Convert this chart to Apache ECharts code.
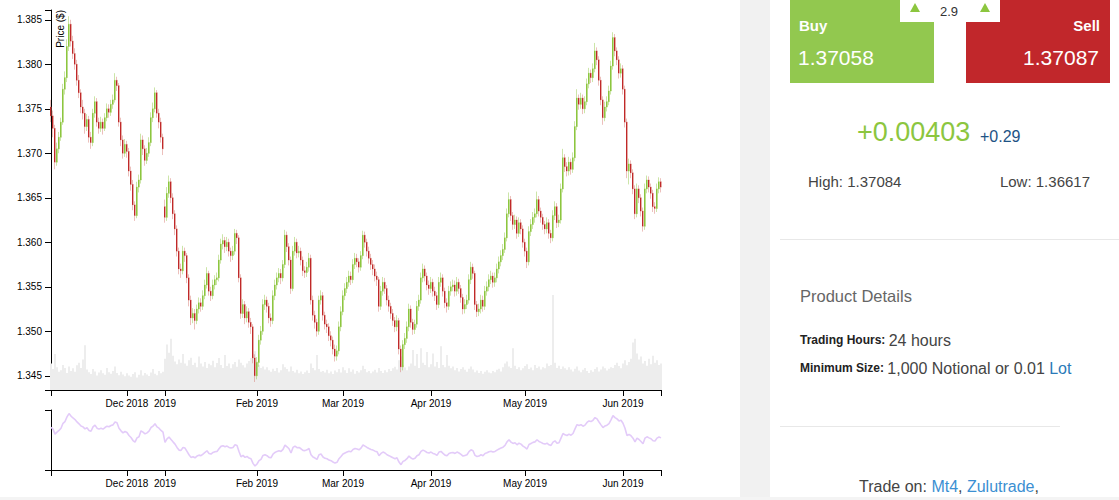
<!DOCTYPE html>
<html><head><meta charset="utf-8">
<script src="https://cdn.jsdelivr.net/npm/echarts@6/dist/echarts.min.js"></script>
<style>html,body{margin:0;padding:0;background:#fff;overflow:hidden}#c{width:1119px;height:500px}</style>
</head><body><div id="c"></div>
<script>
// ---- data: one row per candle = [open, close, low, high] ----
const ohlc = [
[1.3752,1.3742,1.3735,1.3760],[1.3742,1.3728,1.3718,1.3748],[1.3728,1.3690,1.3682,1.3732],[1.3690,1.3705,1.3686,1.3712],[1.3705,1.3718,1.3700,1.3724],
[1.3718,1.3735,1.3714,1.3740],[1.3735,1.3772,1.3732,1.3778],[1.3772,1.3785,1.3766,1.3792],[1.3785,1.3820,1.3780,1.3828],[1.3820,1.3845,1.3815,1.3854],
[1.3845,1.3826,1.3820,1.3850],[1.3826,1.3812,1.3806,1.3832],[1.3812,1.3800,1.3794,1.3818],[1.3800,1.3782,1.3776,1.3805],[1.3782,1.3768,1.3762,1.3788],
[1.3768,1.3752,1.3745,1.3772],[1.3752,1.3745,1.3738,1.3760],[1.3745,1.3730,1.3722,1.3750],[1.3730,1.3738,1.3725,1.3744],[1.3738,1.3718,1.3712,1.3742],
[1.3718,1.3712,1.3705,1.3724],[1.3712,1.3745,1.3708,1.3750],[1.3745,1.3758,1.3740,1.3764],[1.3758,1.3735,1.3730,1.3762],[1.3735,1.3728,1.3722,1.3740],
[1.3728,1.3735,1.3724,1.3741],[1.3735,1.3728,1.3721,1.3739],[1.3728,1.3740,1.3725,1.3745],[1.3740,1.3750,1.3736,1.3756],[1.3750,1.3746,1.3740,1.3755],
[1.3746,1.3755,1.3742,1.3760],[1.3755,1.3760,1.3750,1.3766],[1.3760,1.3782,1.3757,1.3790],[1.3782,1.3776,1.3770,1.3786],[1.3776,1.3735,1.3730,1.3779],
[1.3735,1.3715,1.3708,1.3740],[1.3715,1.3700,1.3694,1.3720],[1.3700,1.3710,1.3696,1.3716],[1.3710,1.3702,1.3695,1.3714],[1.3702,1.3680,1.3674,1.3706],
[1.3680,1.3665,1.3658,1.3685],[1.3665,1.3642,1.3636,1.3670],[1.3642,1.3630,1.3624,1.3646],[1.3630,1.3662,1.3627,1.3668],[1.3662,1.3670,1.3656,1.3676],
[1.3670,1.3715,1.3666,1.3722],[1.3715,1.3705,1.3698,1.3720],[1.3705,1.3692,1.3686,1.3709],[1.3692,1.3700,1.3688,1.3706],[1.3700,1.3712,1.3696,1.3718],
[1.3712,1.3740,1.3708,1.3746],[1.3740,1.3750,1.3735,1.3757],[1.3750,1.3768,1.3746,1.3774],[1.3768,1.3745,1.3740,1.3771],[1.3745,1.3735,1.3728,1.3750],
[1.3735,1.3718,1.3712,1.3740],[1.3718,1.3705,1.3698,1.3722],[1.3640,1.3628,1.3622,1.3648],[1.3628,1.3655,1.3624,1.3662],[1.3655,1.3668,1.3650,1.3675],
[1.3668,1.3650,1.3644,1.3672],[1.3650,1.3632,1.3626,1.3655],[1.3632,1.3615,1.3608,1.3636],[1.3615,1.3590,1.3584,1.3619],[1.3590,1.3570,1.3564,1.3594],
[1.3570,1.3568,1.3560,1.3576],[1.3568,1.3590,1.3564,1.3596],[1.3590,1.3585,1.3578,1.3594],[1.3585,1.3560,1.3554,1.3588],[1.3560,1.3535,1.3528,1.3564],
[1.3535,1.3515,1.3507,1.3540],[1.3515,1.3520,1.3509,1.3526],[1.3520,1.3512,1.3502,1.3525],[1.3512,1.3525,1.3508,1.3530],[1.3525,1.3532,1.3520,1.3538],
[1.3532,1.3528,1.3522,1.3537],[1.3528,1.3540,1.3524,1.3546],[1.3540,1.3552,1.3536,1.3558],[1.3552,1.3565,1.3548,1.3572],[1.3565,1.3545,1.3540,1.3568],
[1.3545,1.3540,1.3534,1.3550],[1.3540,1.3552,1.3536,1.3558],[1.3552,1.3558,1.3547,1.3563],[1.3558,1.3560,1.3552,1.3566],[1.3560,1.3580,1.3556,1.3586],
[1.3580,1.3598,1.3576,1.3604],[1.3598,1.3602,1.3592,1.3609],[1.3602,1.3595,1.3588,1.3606],[1.3595,1.3600,1.3590,1.3606],[1.3600,1.3590,1.3584,1.3604],
[1.3590,1.3585,1.3578,1.3594],[1.3585,1.3590,1.3580,1.3596],[1.3590,1.3610,1.3586,1.3615],[1.3610,1.3605,1.3598,1.3614],[1.3605,1.3560,1.3555,1.3608],
[1.3560,1.3520,1.3514,1.3564],[1.3520,1.3530,1.3515,1.3536],[1.3530,1.3515,1.3508,1.3534],[1.3515,1.3522,1.3510,1.3528],[1.3522,1.3510,1.3504,1.3526],
[1.3510,1.3505,1.3497,1.3515],[1.3505,1.3470,1.3464,1.3508],[1.3470,1.3450,1.3443,1.3474],[1.3450,1.3465,1.3446,1.3471],[1.3465,1.3490,1.3460,1.3496],
[1.3490,1.3500,1.3485,1.3506],[1.3500,1.3530,1.3496,1.3536],[1.3530,1.3535,1.3524,1.3541],[1.3535,1.3528,1.3521,1.3539],[1.3528,1.3515,1.3509,1.3532],
[1.3515,1.3512,1.3505,1.3520],[1.3512,1.3540,1.3508,1.3546],[1.3540,1.3552,1.3535,1.3558],[1.3552,1.3560,1.3547,1.3566],[1.3560,1.3565,1.3555,1.3571],
[1.3565,1.3560,1.3553,1.3570],[1.3560,1.3575,1.3556,1.3580],[1.3575,1.3608,1.3571,1.3614],[1.3608,1.3595,1.3589,1.3612],[1.3595,1.3580,1.3574,1.3599],
[1.3580,1.3548,1.3542,1.3584],[1.3548,1.3590,1.3545,1.3596],[1.3590,1.3600,1.3585,1.3606],[1.3600,1.3588,1.3582,1.3604],[1.3588,1.3590,1.3583,1.3596],
[1.3590,1.3580,1.3574,1.3594],[1.3580,1.3568,1.3562,1.3584],[1.3568,1.3566,1.3560,1.3573],[1.3566,1.3572,1.3561,1.3578],[1.3572,1.3582,1.3567,1.3588],
[1.3582,1.3535,1.3530,1.3586],[1.3535,1.3518,1.3512,1.3540],[1.3518,1.3510,1.3503,1.3523],[1.3510,1.3500,1.3494,1.3514],[1.3500,1.3535,1.3496,1.3540],
[1.3535,1.3540,1.3530,1.3546],[1.3540,1.3518,1.3512,1.3544],[1.3518,1.3508,1.3502,1.3522],[1.3508,1.3505,1.3498,1.3513],[1.3505,1.3495,1.3489,1.3509],
[1.3495,1.3490,1.3483,1.3500],[1.3490,1.3480,1.3474,1.3494],[1.3480,1.3472,1.3466,1.3485],[1.3472,1.3478,1.3467,1.3484],[1.3478,1.3505,1.3474,1.3511],
[1.3505,1.3522,1.3500,1.3528],[1.3522,1.3540,1.3518,1.3546],[1.3540,1.3548,1.3535,1.3554],[1.3548,1.3555,1.3543,1.3561],[1.3555,1.3562,1.3550,1.3568],
[1.3562,1.3558,1.3552,1.3567],[1.3558,1.3575,1.3554,1.3581],[1.3575,1.3582,1.3570,1.3588],[1.3582,1.3578,1.3572,1.3587],[1.3578,1.3572,1.3566,1.3582],
[1.3572,1.3585,1.3568,1.3590],[1.3585,1.3608,1.3581,1.3613],[1.3608,1.3600,1.3594,1.3612],[1.3600,1.3590,1.3584,1.3604],[1.3590,1.3582,1.3576,1.3595],
[1.3582,1.3575,1.3569,1.3587],[1.3575,1.3570,1.3563,1.3580],[1.3570,1.3562,1.3556,1.3575],[1.3562,1.3558,1.3551,1.3567],[1.3558,1.3528,1.3522,1.3561],
[1.3528,1.3545,1.3524,1.3551],[1.3545,1.3555,1.3540,1.3561],[1.3555,1.3548,1.3542,1.3560],[1.3548,1.3535,1.3529,1.3552],[1.3535,1.3528,1.3522,1.3540],
[1.3528,1.3520,1.3514,1.3532],[1.3520,1.3512,1.3506,1.3525],[1.3512,1.3505,1.3499,1.3516],[1.3505,1.3512,1.3500,1.3518],[1.3512,1.3480,1.3474,1.3515],
[1.3480,1.3460,1.3454,1.3484],[1.3460,1.3485,1.3456,1.3490],[1.3485,1.3492,1.3480,1.3498],[1.3492,1.3505,1.3487,1.3511],[1.3505,1.3525,1.3500,1.3531],
[1.3525,1.3510,1.3504,1.3529],[1.3510,1.3502,1.3496,1.3514],[1.3502,1.3508,1.3497,1.3513],[1.3508,1.3528,1.3504,1.3534],[1.3528,1.3535,1.3523,1.3541],
[1.3535,1.3560,1.3531,1.3566],[1.3560,1.3570,1.3555,1.3576],[1.3570,1.3562,1.3556,1.3574],[1.3562,1.3552,1.3546,1.3566],[1.3552,1.3548,1.3541,1.3557],
[1.3548,1.3555,1.3543,1.3561],[1.3555,1.3545,1.3539,1.3559],[1.3545,1.3540,1.3534,1.3550],[1.3540,1.3530,1.3524,1.3544],[1.3530,1.3555,1.3526,1.3561],
[1.3555,1.3560,1.3550,1.3566],[1.3560,1.3545,1.3539,1.3564],[1.3545,1.3532,1.3526,1.3549],[1.3532,1.3528,1.3521,1.3537],[1.3528,1.3545,1.3524,1.3551],
[1.3545,1.3550,1.3540,1.3556],[1.3550,1.3552,1.3545,1.3558],[1.3552,1.3545,1.3539,1.3557],[1.3545,1.3555,1.3540,1.3561],[1.3555,1.3548,1.3542,1.3559],
[1.3548,1.3538,1.3532,1.3552],[1.3538,1.3525,1.3519,1.3542],[1.3525,1.3530,1.3520,1.3536],[1.3530,1.3535,1.3525,1.3541],[1.3535,1.3558,1.3531,1.3564],
[1.3558,1.3572,1.3553,1.3578],[1.3572,1.3565,1.3559,1.3576],[1.3565,1.3530,1.3524,1.3568],[1.3530,1.3522,1.3516,1.3534],[1.3522,1.3525,1.3517,1.3531],
[1.3525,1.3535,1.3520,1.3541],[1.3535,1.3528,1.3522,1.3540],[1.3528,1.3545,1.3524,1.3551],[1.3545,1.3550,1.3540,1.3556],[1.3550,1.3558,1.3545,1.3564],
[1.3558,1.3562,1.3553,1.3568],[1.3562,1.3555,1.3549,1.3566],[1.3555,1.3560,1.3550,1.3566],[1.3560,1.3570,1.3555,1.3576],[1.3570,1.3578,1.3565,1.3584],
[1.3578,1.3585,1.3573,1.3591],[1.3585,1.3592,1.3580,1.3598],[1.3592,1.3605,1.3588,1.3611],[1.3605,1.3632,1.3601,1.3638],[1.3632,1.3648,1.3628,1.3656],
[1.3648,1.3630,1.3624,1.3652],[1.3630,1.3620,1.3614,1.3634],[1.3620,1.3625,1.3615,1.3631],[1.3625,1.3610,1.3604,1.3629],[1.3610,1.3622,1.3606,1.3628],
[1.3622,1.3615,1.3609,1.3626],[1.3615,1.3600,1.3594,1.3619],[1.3600,1.3590,1.3584,1.3604],[1.3590,1.3578,1.3571,1.3594],[1.3578,1.3612,1.3574,1.3618],
[1.3612,1.3620,1.3607,1.3626],[1.3620,1.3628,1.3615,1.3634],[1.3628,1.3632,1.3622,1.3638],[1.3632,1.3648,1.3628,1.3657],[1.3648,1.3635,1.3629,1.3652],
[1.3635,1.3628,1.3622,1.3639],[1.3628,1.3620,1.3614,1.3632],[1.3620,1.3615,1.3609,1.3624],[1.3615,1.3622,1.3610,1.3628],[1.3622,1.3610,1.3604,1.3626],
[1.3610,1.3605,1.3599,1.3614],[1.3605,1.3630,1.3601,1.3636],[1.3630,1.3640,1.3625,1.3646],[1.3640,1.3622,1.3616,1.3644],[1.3622,1.3625,1.3617,1.3631],
[1.3625,1.3660,1.3621,1.3666],[1.3660,1.3695,1.3656,1.3705],[1.3695,1.3685,1.3679,1.3699],[1.3685,1.3680,1.3674,1.3690],[1.3680,1.3690,1.3675,1.3696],
[1.3690,1.3682,1.3676,1.3694],[1.3682,1.3695,1.3678,1.3701],[1.3695,1.3730,1.3691,1.3736],[1.3730,1.3762,1.3726,1.3772],[1.3762,1.3755,1.3749,1.3766],
[1.3755,1.3762,1.3750,1.3768],[1.3762,1.3750,1.3744,1.3766],[1.3750,1.3758,1.3745,1.3764],[1.3758,1.3778,1.3754,1.3784],[1.3778,1.3790,1.3773,1.3796],
[1.3790,1.3785,1.3779,1.3794],[1.3785,1.3795,1.3780,1.3801],[1.3795,1.3815,1.3791,1.3824],[1.3815,1.3805,1.3799,1.3819],[1.3805,1.3782,1.3776,1.3809],
[1.3782,1.3760,1.3754,1.3786],[1.3760,1.3740,1.3732,1.3764],[1.3740,1.3752,1.3736,1.3758],[1.3752,1.3758,1.3747,1.3764],[1.3758,1.3770,1.3754,1.3776],
[1.3770,1.3798,1.3766,1.3804],[1.3798,1.3830,1.3794,1.3836],[1.3830,1.3815,1.3809,1.3834],[1.3815,1.3805,1.3799,1.3819],[1.3805,1.3790,1.3784,1.3809],
[1.3790,1.3795,1.3785,1.3801],[1.3795,1.3772,1.3766,1.3799],[1.3772,1.3735,1.3729,1.3776],[1.3735,1.3680,1.3672,1.3739],[1.3680,1.3688,1.3665,1.3694],
[1.3688,1.3678,1.3672,1.3692],[1.3678,1.3660,1.3654,1.3682],[1.3660,1.3632,1.3626,1.3664],[1.3632,1.3660,1.3628,1.3666],[1.3660,1.3650,1.3644,1.3664],
[1.3650,1.3635,1.3629,1.3654],[1.3635,1.3618,1.3612,1.3639],[1.3618,1.3660,1.3614,1.3666],[1.3660,1.3670,1.3655,1.3675],[1.3670,1.3662,1.3656,1.3674],
[1.3662,1.3655,1.3649,1.3666],[1.3655,1.3640,1.3634,1.3659],[1.3640,1.3638,1.3632,1.3645],[1.3638,1.3660,1.3634,1.3666],[1.3660,1.3668,1.3655,1.3673],
[1.3668,1.3662,1.3656,1.3672]
];
const volumes = [
70,55,95,60,48,52,66,58,45,62, 50,57,48,65,72,58,80,118,54,47, 42,55,49,38,46,52,44,40,58,47,
43,50,62,45,39,48,41,36,44,38, 35,42,47,33,40,52,38,45,41,37, 46,55,43,39,50,44,48,82,120,98,
135,90,75,68,80,72,95,70,64,78, 85,66,72,60,88,70,62,74,58,69, 65,77,60,71,84,66,58,92,63,70,
57,68,74,61,80,72,65,59,70,76, 84,96,102,75,66,58,62,54,60,52, 48,56,50,58,46,52,68,60,55,49,
62,50,46,53,44,49,42,47,51,45, 70,58,52,92,55,48,50,46,53,44, 49,42,51,47,55,46,60,52,45,57,
48,54,43,50,46,52,64,55,47,50, 44,49,53,46,58,50,45,52,47,55, 50,57,61,54,78,88,66,59,52,62,
70,105,64,95,58,110,72,66,100,60, 68,96,62,74,58,115,66,60,92,64, 57,62,52,58,49,55,60,53,48,56,
62,54,47,51,45,50,43,48,52,46, 44,50,47,53,56,49,60,70,75,62, 58,110,64,55,60,52,57,63,68,55,
59,52,66,58,62,54,60,57,70,63, 66,250,72,58,64,55,62,57,53,60, 54,49,56,62,51,47,53,58,50,45,
52,48,55,60,49,54,62,57,51,56, 60,58,66,72,63,57,70,78,65,74, 82,125,135,96,80,88,70,76,64,82,
68,90,72,78,66,70
];
// month-start candle index and its tick label
const tickIndex  = [38, 57, 103, 146, 190, 237, 286];
const tickLabels = ['Dec 2018', '2019', 'Feb 2019', 'Mar 2019', 'Apr 2019', 'May 2019', 'Jun 2019'];
const priceTicks = [1.345, 1.350, 1.355, 1.360, 1.365, 1.370, 1.375, 1.380, 1.385];
const priceMin = 1.3434, priceMax = 1.3861;
const navMin = 1.3420, navMax = 1.3872;
const volumeMax = 1000;
// quote panel values
const quote = { buy: '1.37058', sell: '1.37087', spread: '2.9', change: '+0.00403', changePct: '+0.29', high: '1.37084', low: '1.36617' };

// ---- derived tables for the library ----
const categories = ohlc.map((_, i) => String(i));
const closes = ohlc.map(r => r[1]);
const bodies = ohlc.map(r => [r[0], r[1], Math.min(r[0], r[1]), Math.max(r[0], r[1])]);
const last = ohlc.length - 1;

const FONT = 'Liberation Sans, Arial, sans-serif';
const tickPositions = [0].concat(tickIndex, [last]);
const fmtLabel = (v) => { const k = tickIndex.indexOf(Number(v)); return k >= 0 ? tickLabels[k] : ''; };

function xAxisCfg(grid) {
  return {
    type: 'category', gridIndex: grid, data: categories, boundaryGap: false,
    axisLine: { show: true, lineStyle: { color: '#000', width: 1 } },
    axisTick: { show: true, length: 6, customValues: tickPositions, lineStyle: { color: '#000', width: 1 } },
    axisLabel: { show: true, customValues: tickIndex, formatter: fmtLabel, color: '#000', fontSize: 10, fontFamily: FONT, margin: 8, hideOverlap: false },
    splitLine: { show: false }, axisPointer: { show: false }
  };
}

const chart = echarts.init(document.getElementById('c'), null, { renderer: 'svg' });
const green = '#8cc63f', red = '#c0282a';
chart.setOption({
  animation: false,
  backgroundColor: '#fff',
  grid: [
    { left: 51, top: 10, width: 610, height: 380, outerBoundsMode: 'none', containLabel: false },
    { left: 51, top: 410, width: 610, height: 60, outerBoundsMode: 'none', containLabel: false }
  ],
  xAxis: [xAxisCfg(0), xAxisCfg(1)],
  yAxis: [
    { type: 'value', gridIndex: 0, min: priceMin, max: priceMax,
      axisLine: { show: true, lineStyle: { color: '#000', width: 1 } },
      axisTick: { show: true, length: 6, customValues: [priceMin].concat(priceTicks, [priceMax]), lineStyle: { color: '#000' } },
      axisLabel: { show: true, customValues: priceTicks, formatter: v => Number(v).toFixed(3), color: '#000', fontSize: 10, fontFamily: FONT, margin: 9 },
      splitLine: { show: false } },
    { type: 'value', gridIndex: 0, min: 0, max: volumeMax, show: false, splitLine: { show: false } },
    { type: 'value', gridIndex: 1, min: navMin, max: navMax,
      axisLine: { show: true, lineStyle: { color: '#000', width: 1 } },
      axisTick: { show: true, length: 6, customValues: [navMin, navMax], lineStyle: { color: '#000' } },
      axisLabel: { show: false }, splitLine: { show: false } }
  ],
  series: [
    { type: 'bar', xAxisIndex: 0, yAxisIndex: 1, data: volumes, barWidth: 2, silent: true, z: 1,
      itemStyle: { color: '#ededed' } },
    { type: 'candlestick', xAxisIndex: 0, yAxisIndex: 0, data: ohlc, barWidth: 2, silent: true, z: 2,
      itemStyle: { color: 'rgba(141,198,63,0.45)', color0: 'rgba(205,90,80,0.38)', borderColor: 'rgba(141,198,63,0.45)', borderColor0: 'rgba(205,90,80,0.38)', borderWidth: 1 } },
    { type: 'candlestick', xAxisIndex: 0, yAxisIndex: 0, data: bodies, barWidth: 1, silent: true, z: 3,
      itemStyle: { color: green, color0: red, borderColor: green, borderColor0: red, borderWidth: 1 } },
    { type: 'line', xAxisIndex: 1, yAxisIndex: 2, data: closes, symbol: 'none', silent: true, z: 2,
      lineStyle: { color: '#e3cbf9', width: 1.6 } }
  ],
  graphic: [
    { type: 'text', x: 60, y: 10, rotation: Math.PI / 2, style: { text: 'Price ($)', fill: '#000', font: '10px ' + FONT, align: 'right', verticalAlign: 'middle' } },
    // page chrome
    { type: 'rect', shape: { x: 740, y: 0, width: 30, height: 500 }, style: { fill: '#f1f1f1' }, silent: true },
    { type: 'rect', shape: { x: 0, y: 497, width: 1119, height: 3 }, style: { fill: '#f4f4f4' }, silent: true },
    // quote boxes
    { type: 'rect', shape: { x: 790, y: 0, width: 144, height: 83 }, style: { fill: '#92c84f' } },
    { type: 'rect', shape: { x: 966, y: 0, width: 144, height: 83 }, style: { fill: '#c1272b' } },
    { type: 'rect', shape: { x: 900, y: 0, width: 100, height: 22 }, style: { fill: '#fff' } },
    { type: 'polygon', shape: { points: [[910, 12], [920, 12], [915, 3]] }, style: { fill: green } },
    { type: 'polygon', shape: { points: [[980, 12], [990, 12], [985, 3]] }, style: { fill: green } },
    { type: 'text', x: 949, y: 11, style: { text: quote.spread, fill: '#333', font: '13px ' + FONT, align: 'center', verticalAlign: 'middle' } },
    { type: 'text', x: 799, y: 25, style: { text: 'Buy', fill: '#fff', font: 'bold 15px ' + FONT, align: 'left', verticalAlign: 'middle' } },
    { type: 'text', x: 798, y: 57, style: { text: quote.buy, fill: '#fff', font: '21px ' + FONT, align: 'left', verticalAlign: 'middle' } },
    { type: 'text', x: 1100, y: 25, style: { text: 'Sell', fill: '#fff', font: 'bold 15px ' + FONT, align: 'right', verticalAlign: 'middle' } },
    { type: 'text', x: 1099, y: 57, style: { text: quote.sell, fill: '#fff', font: '21px ' + FONT, align: 'right', verticalAlign: 'middle' } },
    { type: 'text', x: 857, y: 132, style: { text: quote.change, fill: green, font: '27px ' + FONT, align: 'left', verticalAlign: 'middle' } },
    { type: 'text', x: 980, y: 136, style: { text: quote.changePct, fill: '#1e5385', font: '16px ' + FONT, align: 'left', verticalAlign: 'middle' } },
    { type: 'text', x: 808, y: 181, style: { text: 'High: ' + quote.high, fill: '#444', font: '15px ' + FONT, align: 'left', verticalAlign: 'middle' } },
    { type: 'text', x: 1090, y: 181, style: { text: 'Low: ' + quote.low, fill: '#444', font: '15px ' + FONT, align: 'right', verticalAlign: 'middle' } },
    { type: 'line', shape: { x1: 780, y1: 239.5, x2: 1119, y2: 239.5 }, style: { stroke: '#e8e8e8', lineWidth: 1 } },
    { type: 'text', x: 800, y: 296, style: { text: 'Product Details', fill: '#666', font: '16.5px ' + FONT, align: 'left', verticalAlign: 'middle' } },
    { type: 'text', x: 800, y: 340, style: { text: '{b|Trading Hours:} {n|24 hours}', align: 'left', verticalAlign: 'middle',
        rich: { b: { fill: '#222', fontSize: 12, fontWeight: 'bold', fontFamily: FONT }, n: { fill: '#444', fontSize: 16, fontFamily: FONT } } } },
    { type: 'text', x: 800, y: 368, style: { text: '{b|Minimum Size:} {n|1,000 Notional or 0.01 }{l|Lot}', align: 'left', verticalAlign: 'middle',
        rich: { b: { fill: '#222', fontSize: 12, fontWeight: 'bold', fontFamily: FONT }, n: { fill: '#444', fontSize: 16, fontFamily: FONT }, l: { fill: '#2a7ab8', fontSize: 16, fontFamily: FONT } } } },
    { type: 'line', shape: { x1: 780, y1: 426.5, x2: 1060, y2: 426.5 }, style: { stroke: '#e8e8e8', lineWidth: 1 } },
    { type: 'text', x: 949, y: 486, style: { text: '{n|Trade on: }{l|Mt4}{n|, }{l|Zulutrade}{n|,}', align: 'center', verticalAlign: 'middle',
        rich: { n: { fill: '#444', fontSize: 16, fontFamily: FONT }, l: { fill: '#3b8fd2', fontSize: 16, fontFamily: FONT } } } }
  ]
});
</script></body></html>
